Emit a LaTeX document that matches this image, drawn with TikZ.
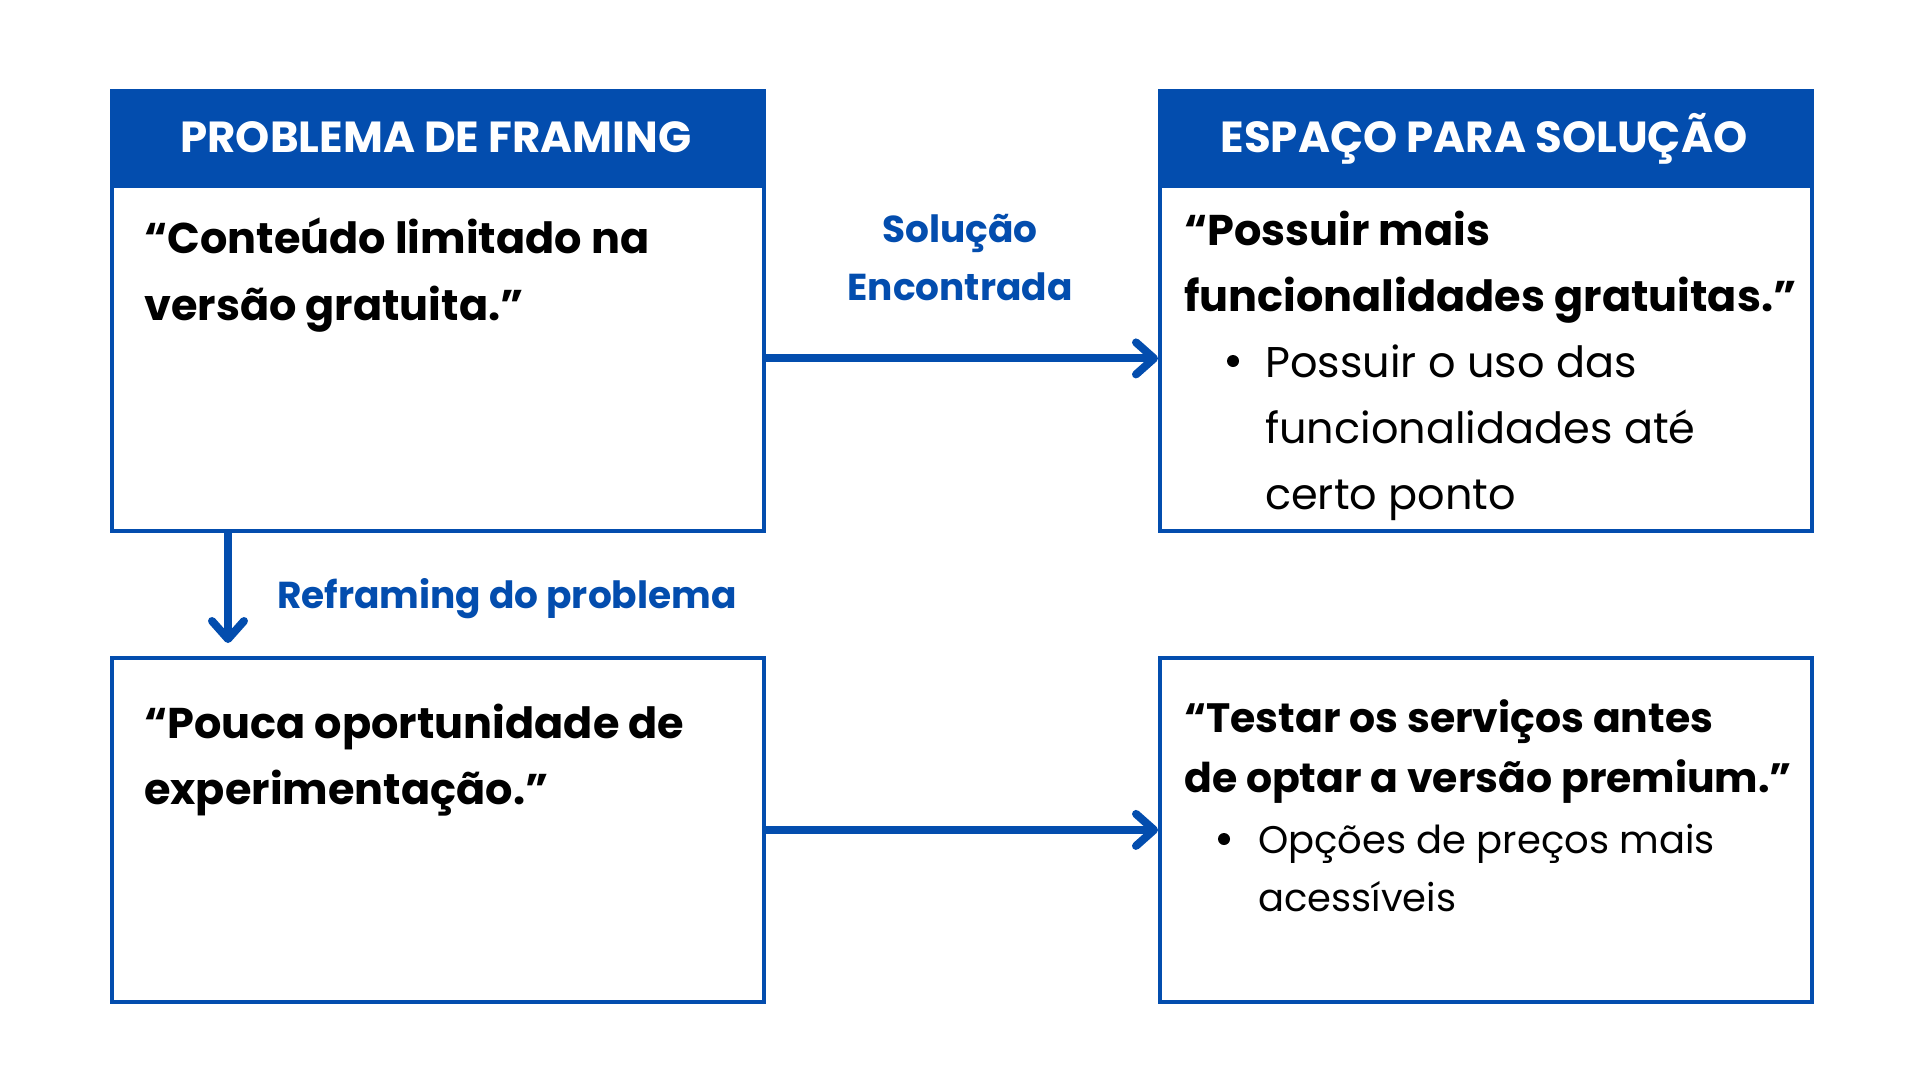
\documentclass[tikz,border=0pt]{standalone}
\usepackage{fontspec}
\setmainfont{Poppins}
\usetikzlibrary{arrows.meta}
\definecolor{blu}{HTML}{034DAE}
\begin{document}
\begin{tikzpicture}[x=1pt,y=-1pt,
  box/.style={draw=blu,line width=3.8pt,inner sep=0pt},
  hdr/.style={box,fill=blu},
  htxt/.style={text=white,font=\fontsize{43.5}{50}\selectfont\bfseries,anchor=base,inner sep=0pt},
  conn/.style={draw=blu,line width=8pt,-{Straight Barb[length=18pt,width=32pt,line cap=round,line join=round]}},
  lbl/.style={text=blu,font=\fontsize{37.5}{44}\selectfont\bfseries,inner sep=0pt},
  qb/.style={anchor=base west,inner sep=0pt,font=\fontsize{43}{50}\selectfont\bfseries},
  qs/.style={anchor=base west,inner sep=0pt,font=\fontsize{41}{48}\selectfont\bfseries},
  bl/.style={anchor=base west,inner sep=0pt,font=\fontsize{43}{50}\selectfont},
  bs/.style={anchor=base west,inner sep=0pt,font=\fontsize{38.5}{46}\selectfont},
  dot/.style={circle,fill=black,inner sep=0pt,minimum size=12pt}]
\useasboundingbox (0,0) rectangle (1920,1080);
% boxes
\node[hdr,anchor=north west,minimum width=652,minimum height=95] (h1) at (110,89) {};
\node[box,anchor=north west,minimum width=652,minimum height=345] (p1) at (110,184) {};
\node[hdr,anchor=north west,minimum width=652,minimum height=95] (h2) at (1158,89) {};
\node[box,anchor=north west,minimum width=652,minimum height=345] (s1) at (1158,184) {};
\node[box,anchor=north west,minimum width=652,minimum height=344] (p2) at (110,656) {};
\node[box,anchor=north west,minimum width=652,minimum height=344] (s2) at (1158,656) {};
% header texts
\node[htxt] (t1) at (436,152) {PROBLEMA DE FRAMING};
\node[htxt] (t2) at (1484,152) {ESPAÇO PARA SOLUÇÃO};
% top-left text
\node[qb] (a1) at (144,253) {“Conteúdo limitado na};
\node[qb] (a2) at (144,320) {versão gratuita.”};
% top-right text
\node[qb] (b1) at (1184,245) {“Possuir mais};
\node[qb] (b2) at (1184,311) {funcionalidades gratuitas.”};
\node[dot] (b3d) at (1233,361) {};
\node[bl] (b3) at (1265,377) {Possuir o uso das};
\node[bl] (b4) at (1265,443) {funcionalidades até};
\node[bl] (b5) at (1265,509) {certo ponto};
% bottom-left text
\node[qb] (c1) at (144,738) {“Pouca oportunidade de};
\node[qb] (c2) at (144,804) {experimentação.”};
% bottom-right text
\node[qs] (d1) at (1184,732) {“Testar os serviços antes};
\node[qs] (d2) at (1184,792) {de optar a versão premium.”};
\node[dot] (d3d) at (1224,839) {};
\node[bs] (d3) at (1258,853) {Opções de preços mais};
\node[bs] (d4) at (1258,911) {acessíveis};
% connectors
\draw[conn] (p1.east) -- (s1.west);
\draw[conn] (p2.east) -- (s2.west);
\coordinate (dx) at (228,0);
\draw[conn,shorten >=13pt] (p1.south -| dx) -- (p2.north -| dx);
% labels
\node[lbl,anchor=base] (l1) at (960,242) {Solução};
\node[lbl,anchor=base] (l1b) at (960,300) {Encontrada};
\node[lbl,anchor=base west] (l2) at (277,608) {Reframing do problema};
\end{tikzpicture}
\end{document}
